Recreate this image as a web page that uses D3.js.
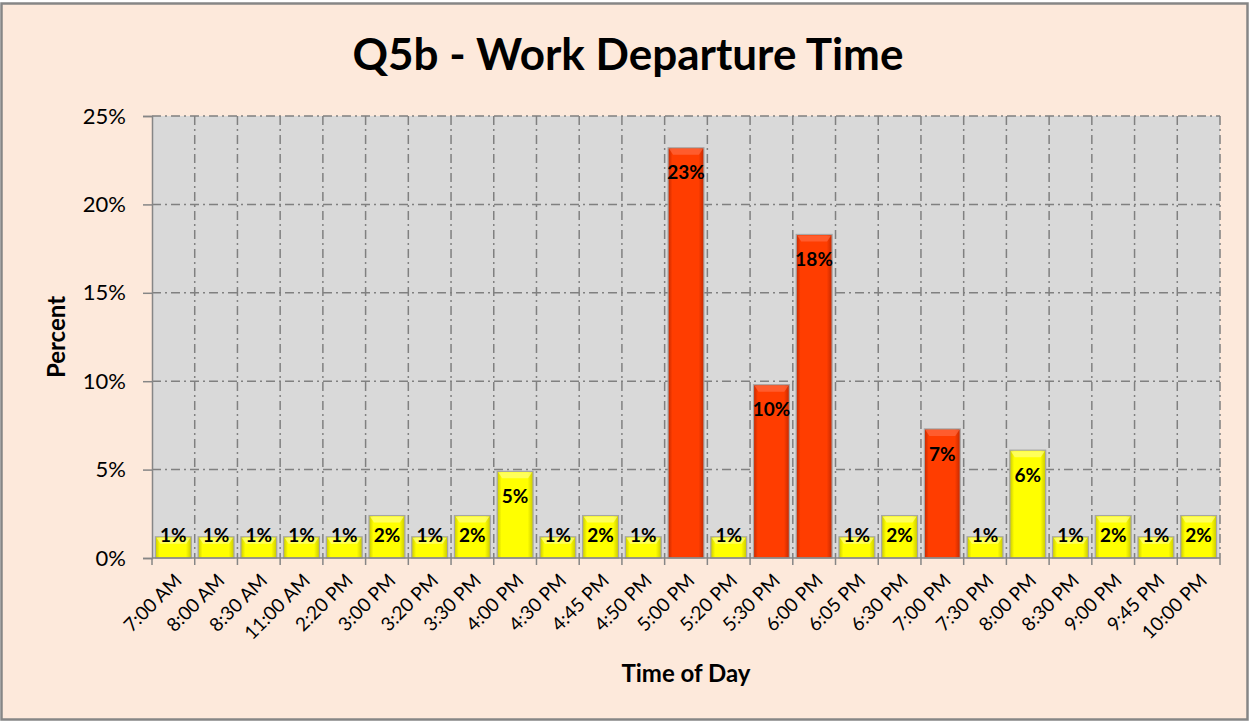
<!DOCTYPE html>
<html>
<head>
<meta charset="utf-8">
<script src="https://cdn.jsdelivr.net/npm/d3@7"></script>
<style>
  html, body { margin: 0; padding: 0; background: #fff; }
  svg { display: block; font-family: Lato, "Open Sans", sans-serif; }
</style>
</head>
<body>
<script>
// categories and values (percent of respondents)
const times = ["7:00 AM", "8:00 AM", "8:30 AM", "11:00 AM", "2:20 PM", "3:00 PM", "3:20 PM", "3:30 PM",
    "4:00 PM", "4:30 PM", "4:45 PM", "4:50 PM", "5:00 PM", "5:20 PM", "5:30 PM", "6:00 PM", "6:05 PM",
    "6:30 PM", "7:00 PM", "7:30 PM", "8:00 PM", "8:30 PM", "9:00 PM", "9:45 PM", "10:00 PM"];
const percents = [1.2, 1.2, 1.2, 1.2, 1.2, 2.4, 1.2, 2.4, 4.9, 1.2, 2.4, 1.2, 23.2, 1.2, 9.8, 18.3, 1.2,
    2.4, 7.3, 1.2, 6.1, 1.2, 2.4, 1.2, 2.4];
const yTicks = [0, 5, 10, 15, 20, 25];

const width = 1250, height = 723;
const margin = { top: 116, right: 30, bottom: 165, left: 152 };

const svg = d3.select("body").append("svg")
    .attr("width", width)
    .attr("height", height);

// chart background + border
svg.append("rect")
    .attr("x", 1.5).attr("y", 3.5)
    .attr("width", 1246).attr("height", 716)
    .attr("fill", "#fde9db")
    .attr("stroke", "#868686")
    .attr("stroke-width", 2.5);

const x = d3.scaleBand()
    .domain(times)
    .range([margin.left, width - margin.right])
    .paddingInner(0.16)
    .paddingOuter(0.08);

const y = d3.scaleLinear()
    .domain([0, 25])
    .range([height - margin.bottom, margin.top]);

const x0 = margin.left, x1 = width - margin.right;
const y0 = y(0), y1 = y(25);
const step = (x1 - x0) / times.length;

// plot area
svg.append("rect")
    .attr("x", x0).attr("y", y1)
    .attr("width", x1 - x0).attr("height", y0 - y1)
    .attr("fill", "#d9d9d9");

// gradients for the bevelled bars
const defs = svg.append("defs");
function makeGrad(id, edge, mid) {
    const g = defs.append("linearGradient").attr("id", id)
        .attr("x1", "0").attr("x2", "1").attr("y1", "0").attr("y2", "0");
    g.append("stop").attr("offset", "0%").attr("stop-color", edge);
    g.append("stop").attr("offset", "12%").attr("stop-color", mid);
    g.append("stop").attr("offset", "85%").attr("stop-color", mid);
    g.append("stop").attr("offset", "100%").attr("stop-color", edge);
}
makeGrad("gYellow", "#c9c900", "#ffff00");
makeGrad("gRed", "#c42800", "#ff3d00");

const dashStyle = "9,4,2,4";

// horizontal gridlines
svg.append("g")
    .selectAll("line")
    .data(yTicks.slice(1))
    .join("line")
    .attr("x1", x0).attr("x2", x1)
    .attr("y1", d => y(d)).attr("y2", d => y(d))
    .attr("stroke", "#808080")
    .attr("stroke-width", 1.5)
    .attr("stroke-dasharray", dashStyle);

// vertical gridlines at category boundaries
const bounds = d3.range(1, times.length + 1).map(i => x0 + i * step);
svg.append("g")
    .selectAll("line")
    .data(bounds)
    .join("line")
    .attr("x1", d => d).attr("x2", d => d)
    .attr("y1", y1).attr("y2", y0)
    .attr("stroke", "#808080")
    .attr("stroke-width", 1.5)
    .attr("stroke-dasharray", dashStyle);

// y axis
const yAxis = svg.append("g")
    .attr("transform", `translate(${x0},0)`)
    .call(d3.axisLeft(y).tickValues(yTicks).tickFormat(d => d + "%").tickSize(9).tickPadding(17));
yAxis.select(".domain").attr("stroke", "#868686").attr("stroke-width", 1.5);
yAxis.selectAll(".tick line").attr("stroke", "#868686").attr("stroke-width", 1.5);
yAxis.selectAll(".tick text")
    .attr("font-size", 22)
    .attr("font-family", "Lato, sans-serif")
    .attr("fill", "#000");

// bars
const isHigh = v => v > 7;
const bars = svg.append("g")
    .selectAll("g")
    .data(times)
    .join("g");

bars.append("rect")
    .attr("x", (d, i) => x(d))
    .attr("y", (d, i) => y(percents[i]))
    .attr("width", x.bandwidth())
    .attr("height", (d, i) => y0 - y(percents[i]))
    .attr("fill", (d, i) => isHigh(percents[i]) ? "url(#gRed)" : "url(#gYellow)")
    .attr("stroke", "#a6a6a6")
    .attr("stroke-width", 1.2);

// top bevel highlight
bars.append("path")
    .attr("d", (d, i) => {
        const bx = x(d), bw = x.bandwidth(), by = y(percents[i]);
        const h = Math.min(7, (y0 - by) / 2);
        return `M${bx + 1},${by + 1} L${bx + bw - 1},${by + 1} L${bx + bw - 5},${by + h} L${bx + 5},${by + h} Z`;
    })
    .attr("fill", (d, i) => isHigh(percents[i]) ? "#ff6a40" : "#ffff80")
    .attr("opacity", 0.7);

// value labels
bars.append("text")
    .attr("x", d => x(d) + x.bandwidth() / 2)
    .attr("y", (d, i) => Math.min(y(percents[i]) + 25, y0 - 23))
    .attr("dy", "0.35em")
    .attr("text-anchor", "middle")
    .attr("font-size", 19)
    .attr("font-weight", "bold")
    .attr("fill", "#000")
    .text((d, i) => Math.round(percents[i]) + "%");

// x axis line and ticks
svg.append("line")
    .attr("x1", x0).attr("x2", x1)
    .attr("y1", y0).attr("y2", y0)
    .attr("stroke", "#868686")
    .attr("stroke-width", 1.5);
svg.append("g")
    .selectAll("line")
    .data([x0].concat(bounds))
    .join("line")
    .attr("x1", d => d).attr("x2", d => d)
    .attr("y1", y0).attr("y2", y0 + 7)
    .attr("stroke", "#868686")
    .attr("stroke-width", 1.5);

// x tick labels, rotated
svg.append("g")
    .selectAll("text")
    .data(times)
    .join("text")
    .attr("transform", d => `translate(${x(d) + x.bandwidth() / 2 + 5},${y0 + 19}) rotate(-45)`)
    .attr("text-anchor", "end")
    .attr("dy", "0.35em")
    .attr("font-size", 19)
    .attr("fill", "#000")
    .text(d => d);

// title
svg.append("text")
    .attr("x", 628).attr("y", 70)
    .attr("text-anchor", "middle")
    .attr("font-size", 44)
    .attr("font-weight", "bold")
    .attr("fill", "#000")
    .text("Q5b - Work Departure Time");

// axis titles
svg.append("text")
    .attr("transform", `translate(65,${(y0 + y1) / 2}) rotate(-90)`)
    .attr("text-anchor", "middle")
    .attr("font-size", 24)
    .attr("font-weight", "bold")
    .attr("fill", "#000")
    .text("Percent");

svg.append("text")
    .attr("x", (x0 + x1) / 2).attr("y", 682)
    .attr("text-anchor", "middle")
    .attr("font-size", 24)
    .attr("font-weight", "bold")
    .attr("fill", "#000")
    .text("Time of Day");
</script>
</body>
</html>
